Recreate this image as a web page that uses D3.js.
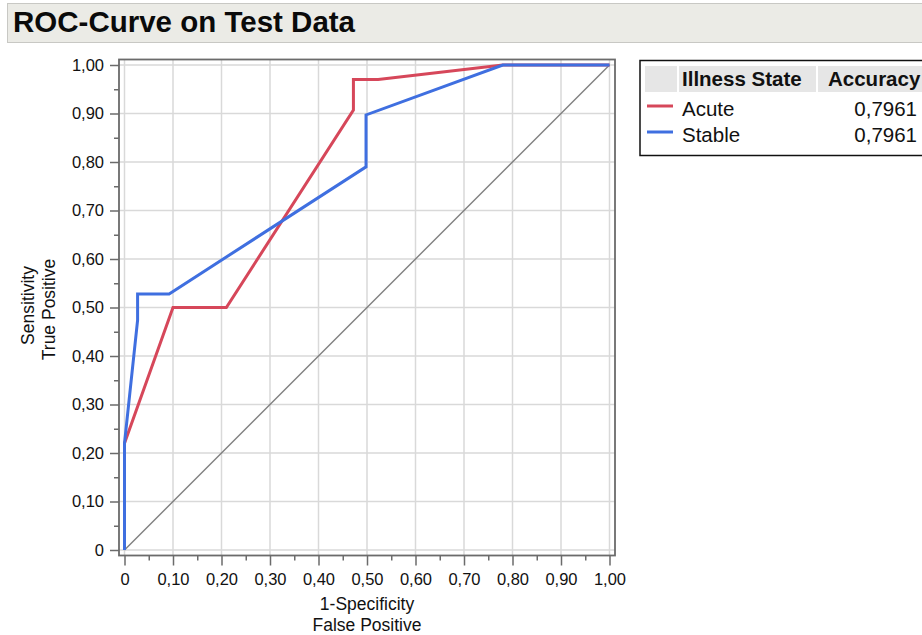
<!DOCTYPE html>
<html>
<head>
<meta charset="utf-8">
<script src="https://cdn.jsdelivr.net/npm/d3@7"></script>
<style>
  body { margin: 0; background: #fff; }
  svg { display: block; font-family: "Liberation Sans", Arial, Helvetica, sans-serif; }
</style>
</head>
<body>
<div id="chart"></div>
<script>
// ROC points (1-specificity, sensitivity)
const acuteFpr = [0, 0, 0.10, 0.21, 0.472, 0.472, 0.523, 0.78, 1];
const acuteTpr = [0, 0.22, 0.50, 0.50, 0.907, 0.97, 0.97, 1, 1];
const stableFpr = [0, 0, 0.027, 0.027, 0.092, 0.498, 0.498, 0.78, 1];
const stableTpr = [0, 0.22, 0.474, 0.528, 0.528, 0.79, 0.897, 1, 1];

const seriesNames = ["Acute", "Stable"];
const accuracy = [0.7961, 0.7961];
const majorTicks = [0, 0.1, 0.2, 0.3, 0.4, 0.5, 0.6, 0.7, 0.8, 0.9, 1.0];
const minorTicks = [0.05, 0.15, 0.25, 0.35, 0.45, 0.55, 0.65, 0.75, 0.85, 0.95];

const colors = ["#d6475a", "#3f6fe0"];

const W = 922, H = 635;
const svg = d3.select("#chart").append("svg")
    .attr("width", W)
    .attr("height", H);

// comma decimals like the source
const loc = d3.formatLocale({ decimal: ",", thousands: ".", grouping: [3], currency: ["", ""] });
const fmt2 = loc.format(".2f");
const fmt4 = loc.format(".4f");
const tickFmt = d => d === 0 ? "0" : fmt2(d);

// title bar
svg.append("rect")
    .attr("x", 7.5).attr("y", 3.5)
    .attr("width", W).attr("height", 39)
    .attr("fill", "#ebebe6")
    .attr("stroke", "#c8c8c4");
svg.append("text")
    .attr("x", 13).attr("y", 32)
    .attr("font-size", 29.5).attr("font-weight", "bold")
    .attr("fill", "#0a0a0a")
    .text("ROC-Curve on Test Data");

// plot area
const x = d3.scaleLinear().domain([0, 1]).range([124.5, 609.5]);
const y = d3.scaleLinear().domain([0, 1]).range([550, 65]);
const pad = 5.5;
const frameL = x(0) - pad, frameR = x(1) + pad, frameT = y(1) - pad, frameB = y(0) + pad;

const g = svg.append("g");

// grid
g.selectAll(".vgrid").data(majorTicks).enter().append("line")
    .attr("x1", d => x(d)).attr("x2", d => x(d))
    .attr("y1", frameT).attr("y2", frameB)
    .attr("stroke", "#d9d9d9").attr("stroke-width", 1.5);
g.selectAll(".hgrid").data(majorTicks).enter().append("line")
    .attr("x1", frameL).attr("x2", frameR)
    .attr("y1", d => y(d)).attr("y2", d => y(d))
    .attr("stroke", "#d9d9d9").attr("stroke-width", 1.5);

// reference diagonal
g.append("line")
    .attr("x1", x(0)).attr("y1", y(0))
    .attr("x2", x(1)).attr("y2", y(1))
    .attr("stroke", "#808080").attr("stroke-width", 1.4);

// curves
const line = d3.line().x(d => x(d[0])).y(d => y(d[1]));
const series = [
    d3.zip(acuteFpr, acuteTpr),
    d3.zip(stableFpr, stableTpr)
];
g.selectAll(".roc").data(series).enter().append("path")
    .attr("d", line)
    .attr("fill", "none")
    .attr("stroke", (d, i) => colors[i])
    .attr("stroke-width", 3)
    .attr("stroke-linejoin", "miter");

// frame
g.append("rect")
    .attr("x", frameL).attr("y", frameT)
    .attr("width", frameR - frameL).attr("height", frameB - frameT)
    .attr("fill", "none")
    .attr("stroke", "#6b6b6b").attr("stroke-width", 1.8);

// axes
function styleAxis(sel) {
    sel.select(".domain").remove();
    sel.selectAll(".tick line").attr("stroke", "#6b6b6b").attr("stroke-width", 1.5);
    sel.selectAll(".tick text").attr("fill", "#111").attr("font-size", 16.5)
        .attr("font-family", "\"Liberation Sans\", Arial, sans-serif");
}

svg.append("g").attr("transform", `translate(${frameL},0)`)
    .call(d3.axisLeft(y).tickValues(majorTicks).tickFormat(tickFmt).tickSize(9).tickPadding(6))
    .call(styleAxis);
svg.append("g").attr("transform", `translate(${frameL},0)`)
    .call(d3.axisLeft(y).tickValues(minorTicks).tickFormat("").tickSize(5))
    .call(styleAxis);

svg.append("g").attr("transform", `translate(0,${frameB})`)
    .call(d3.axisBottom(x).tickValues(majorTicks).tickFormat(tickFmt).tickSize(10).tickPadding(8))
    .call(styleAxis);
svg.append("g").attr("transform", `translate(0,${frameB})`)
    .call(d3.axisBottom(x).tickValues(minorTicks).tickFormat("").tickSize(5))
    .call(styleAxis);

// axis titles
const cx = (x(0) + x(1)) / 2, cy = (y(0) + y(1)) / 2;
svg.append("text").attr("x", cx).attr("y", 610)
    .attr("text-anchor", "middle").attr("font-size", 17.5).attr("fill", "#111")
    .text("1-Specificity");
svg.append("text").attr("x", cx).attr("y", 631)
    .attr("text-anchor", "middle").attr("font-size", 17.5).attr("fill", "#111")
    .text("False Positive");
svg.append("text").attr("transform", `translate(34,${cy - 2}) rotate(-90)`)
    .attr("text-anchor", "middle").attr("font-size", 17.5).attr("fill", "#111")
    .text("Sensitivity");
svg.append("text").attr("transform", `translate(55,${cy + 2}) rotate(-90)`)
    .attr("text-anchor", "middle").attr("font-size", 17.5).attr("fill", "#111")
    .text("True Positive");

// legend table
const lg = svg.append("g");
lg.append("rect")
    .attr("x", 640).attr("y", 60.5)
    .attr("width", 300).attr("height", 95)
    .attr("fill", "#fff").attr("stroke", "#111").attr("stroke-width", 1.5);
lg.append("rect").attr("x", 645).attr("y", 66).attr("width", 32).attr("height", 26).attr("fill", "#e6e6e6");
lg.append("rect").attr("x", 679).attr("y", 66).attr("width", 137).attr("height", 26).attr("fill", "#e6e6e6");
lg.append("rect").attr("x", 818).attr("y", 66).attr("width", 110).attr("height", 26).attr("fill", "#e6e6e6");
lg.append("text").attr("x", 682).attr("y", 86)
    .attr("font-size", 20.5).attr("font-weight", "bold").attr("fill", "#111")
    .text("Illness State");
lg.append("text").attr("x", 828).attr("y", 86)
    .attr("font-size", 20.5).attr("font-weight", "bold").attr("fill", "#111")
    .text("Accuracy");

const rows = lg.selectAll(".row").data(seriesNames).enter().append("g")
    .attr("transform", (d, i) => `translate(0,${116 + i * 26})`);
rows.append("line")
    .attr("x1", 647).attr("x2", 673)
    .attr("y1", -10).attr("y2", -10)
    .attr("stroke", (d, i) => colors[i]).attr("stroke-width", 3);
rows.append("text").attr("x", 682).attr("y", 0)
    .attr("font-size", 20.5).attr("fill", "#111")
    .text(d => d);
rows.append("text").attr("x", 917).attr("y", 0)
    .attr("text-anchor", "end")
    .attr("font-size", 20.5).attr("fill", "#111")
    .text((d, i) => fmt4(accuracy[i]));
</script>
</body>
</html>
